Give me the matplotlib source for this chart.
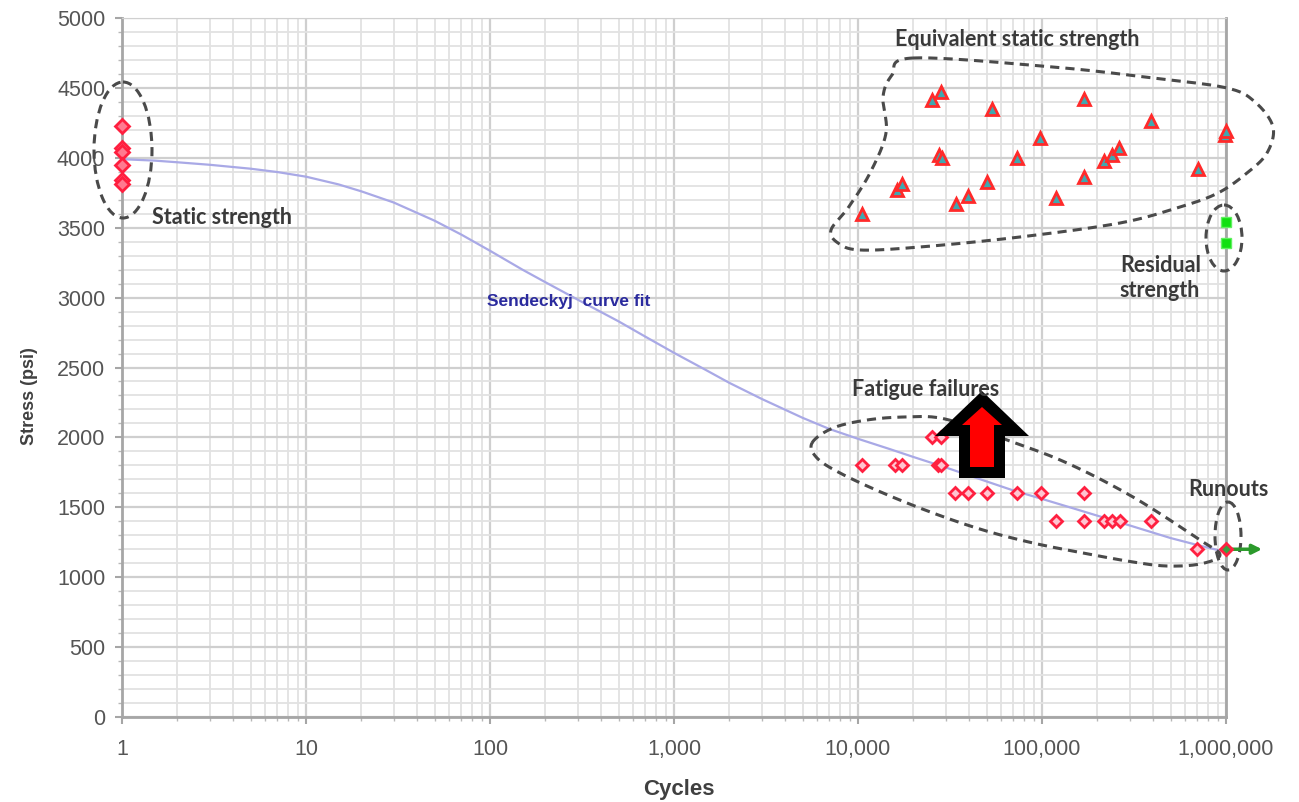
import numpy as np
import matplotlib
matplotlib.use("Agg")
import matplotlib.pyplot as plt
from matplotlib.patches import Ellipse, Polygon
from matplotlib.transforms import Affine2D
from matplotlib.ticker import FixedLocator, FuncFormatter, MultipleLocator

# static strength tests (1 cycle)
static_n = [1, 1, 1, 1, 1, 1]
static_s = [4230, 4070, 4040, 3950, 3840, 3810]

# fatigue failures
fat_n = [25100, 28100, 10500, 15900, 17400, 27300, 28200,
         33700, 39800, 50000, 72800, 98400, 169000,
         119000, 169000, 217000, 239000, 264000, 390000, 698000]
fat_s = [2000, 2000, 1800, 1800, 1800, 1800, 1800,
         1600, 1600, 1600, 1600, 1600, 1600,
         1400, 1400, 1400, 1400, 1400, 1400, 1200]

# equivalent static strength of failed specimens
eq_n = [25100, 28100, 53500, 169000, 391000, 985000, 1000000, 97500, 27500, 28500,
        72800, 217000, 239000, 262000, 702000, 169000, 50200, 39600,
        34100, 119000, 16300, 17300, 10500]
eq_s = [4410, 4470, 4350, 4420, 4260, 4160, 4190, 4140, 4020, 4000,
        4000, 3980, 4020, 4070, 3920, 3860, 3830, 3730,
        3670, 3710, 3770, 3810, 3600]

# residual strength of runouts
res_n = [1000000, 1000000]
res_s = [3540, 3390]

# runouts
run_n = [1000000]
run_s = [1200]
run_end = 1570000

# Sendeckyj fit
fit_n = [1, 1.5, 2, 3, 5, 7, 10, 15, 20, 30, 50, 70, 100, 150, 200, 300, 500, 700,
         1000, 1500, 2000, 3000, 5000, 7000, 10000, 15000, 20000, 30000, 50000,
         70000, 100000, 150000, 200000, 300000, 500000, 700000, 1000000]
fit_s = [3990, 3980, 3968, 3950, 3922, 3898, 3865, 3810, 3760, 3680, 3550, 3450,
         3335, 3200, 3110, 2985, 2830, 2720, 2605, 2480, 2390, 2275, 2140, 2060,
         1990, 1915, 1860, 1785, 1685, 1620, 1560, 1490, 1440, 1370, 1280, 1230, 1180]

W, H = 1299, 802
fig = plt.figure(figsize=(W / 100, H / 100), dpi=100)
ax = fig.add_axes([122 / W, 85 / H, 1104 / W, 699 / H])

# pixel coordinates measured from the top-left corner of the figure
px = Affine2D().scale(1, -1).translate(0, H)

ax.set_xscale("log")
ax.set_xlim(1, 1e6)
ax.set_ylim(0, 5000)

ax.xaxis.set_major_locator(FixedLocator([1, 10, 100, 1e3, 1e4, 1e5, 1e6]))
ax.xaxis.set_major_formatter(FuncFormatter(lambda v, p: f"{int(round(v)):,}"))
ax.yaxis.set_major_locator(MultipleLocator(500))
ax.yaxis.set_minor_locator(MultipleLocator(100))

ax.grid(True, which="major", color="#cfcfcf", lw=1.6)
ax.grid(True, which="minor", color="#e2e2e2", lw=1.3)
ax.set_axisbelow(True)

for side in ["left", "bottom", "right"]:
    ax.spines[side].set_color("#a6a6a6")
    ax.spines[side].set_linewidth(2)
ax.spines["top"].set_color("#d0d0d0")

ax.tick_params(axis="both", which="major", colors="#a6a6a6", labelcolor="#555555",
               labelsize=15.5, length=5, width=1.5)
ax.tick_params(axis="y", which="major", pad=7)
ax.tick_params(axis="x", which="major", pad=11)
ax.tick_params(axis="both", which="minor", colors="#b8b8b8", length=3, width=1)
ax.xaxis.set_minor_formatter(FuncFormatter(lambda v, p: ""))
for t in ax.get_xticklabels() + ax.get_yticklabels():
    t.set_family("Liberation Sans")

ax.set_xlabel("Cycles", fontsize=16, fontweight="bold", color="#404040",
              family="Liberation Sans", va="center")
ax.set_ylabel("Stress (psi)", fontsize=13, fontweight="bold", color="#404040",
              family="Liberation Sans", va="center")
ax.xaxis.set_label_coords(0.504, -0.104)
ax.yaxis.set_label_coords(-0.084, 0.459)

# curve fit
ax.plot(fit_n, fit_s, color="#a9a9e6", lw=1.6, zorder=2)

# data
ax.plot(static_n, static_s, ls="none", marker="D", ms=7, mfc="#ff7a90",
        mec="#ff1f3f", mew=2, clip_on=False, zorder=5)
ax.plot(fat_n, fat_s, ls="none", marker="D", ms=6.5, mfc="#ffc4d0",
        mec="#ff2040", mew=2, zorder=5)
ax.plot(eq_n, eq_s, ls="none", marker="^", ms=9, mfc="#3fa8b0",
        mec="#ff2a2a", mew=2, clip_on=False, zorder=5)
ax.plot(res_n, res_s, ls="none", marker="s", ms=7.5, mfc="#10e010",
        mec="#60f060", mew=1, clip_on=False, zorder=5)
ax.annotate("", xy=(run_end, run_s[0]), xytext=(run_n[0], run_s[0]),
            arrowprops=dict(arrowstyle="-|>", color="#2b9a2b", lw=2.5,
                            mutation_scale=14, shrinkA=0, shrinkB=0),
            annotation_clip=False, zorder=4)
ax.plot(run_n, run_s, ls="none", marker="D", ms=6.5, mfc="#3aa040",
        mec="#ff2040", mew=2, clip_on=False, zorder=6)


def closed_spline(pts, n=24):
    # Catmull-Rom through the outline points, closed loop
    p = np.asarray(pts, float)
    m = len(p)
    out = []
    for i in range(m):
        p0, p1, p2, p3 = p[i - 1], p[i], p[(i + 1) % m], p[(i + 2) % m]
        t = np.linspace(0, 1, n, endpoint=False)[:, None]
        out.append(0.5 * ((2 * p1) + (-p0 + p2) * t
                          + (2 * p0 - 5 * p1 + 4 * p2 - p3) * t ** 2
                          + (-p0 + 3 * p1 - 3 * p2 + p3) * t ** 3))
    out = np.vstack(out)
    return np.vstack([out, out[:1]])


dash = dict(color="#4a4a4a", lw=2.2, ls=(0, (3, 2)), clip_on=False, zorder=3)

eq_outline = [(913, 58), (1053, 67), (1153, 78), (1227, 88), (1255, 102),
              (1273, 127), (1267, 153), (1247, 173), (1218, 193), (1180, 207),
              (1120, 223), (1020, 237), (920, 247), (860, 250), (838, 243),
              (831, 230), (848, 208), (870, 173), (886, 133), (883, 97),
              (892, 75)]
fat_outline = [(812, 443), (833, 428), (867, 420), (905, 417), (945, 419),
               (1007, 440), (1067, 463), (1133, 497), (1200, 540), (1220, 555),
               (1200, 564), (1167, 566), (1133, 562), (1083, 553), (1033, 543),
               (983, 530), (933, 513), (883, 493), (840, 473), (817, 458)]
for outline in (eq_outline, fat_outline):
    c = closed_spline(outline)
    ax.plot(c[:, 0], c[:, 1], transform=px, **dash)

for (cx, cy, w, h) in [(123, 150, 58, 136), (1224, 238, 36, 66), (1228, 536, 26, 68)]:
    ax.add_patch(Ellipse((cx, cy), w, h, transform=px, fill=False,
                         ec=dash["color"], lw=dash["lw"], ls=dash["ls"],
                         clip_on=False, zorder=3))

# highlight arrow
outer = [(982, 391), (1029, 436), (1005, 436), (1005, 478), (959, 478), (959, 436), (935, 436)]
inner = [(982, 407), (1002, 425), (994, 425), (994, 467), (970, 467), (970, 425), (962, 425)]
ax.add_patch(Polygon(outer, closed=True, transform=px, fc="black", ec="none", zorder=7))
ax.add_patch(Polygon(inner, closed=True, transform=px, fc="#ff0000", ec="none", zorder=8))

note = dict(fontsize=15.5, fontweight="bold", color="#3a3a3a", family="Lato",
            va="center", ha="left", zorder=9)
ax.text(1.45, 3570, "Static strength", **note)
ax.text(15900, 4843, "Equivalent static strength", **note)
ax.text(265000, 3140, "Residual\nstrength", linespacing=1.25, **note)
ax.text(9280, 2346, "Fatigue failures", **note)
ax.text(622000, 1624, "Runouts", clip_on=False, **note)
ax.text(96, 2975, "Sendeckyj  curve fit", fontsize=12.5, fontweight="bold",
        color="#2b2b9e", family="Liberation Sans", va="center", ha="left", zorder=9)

fig.savefig("out.png", dpi=100)
